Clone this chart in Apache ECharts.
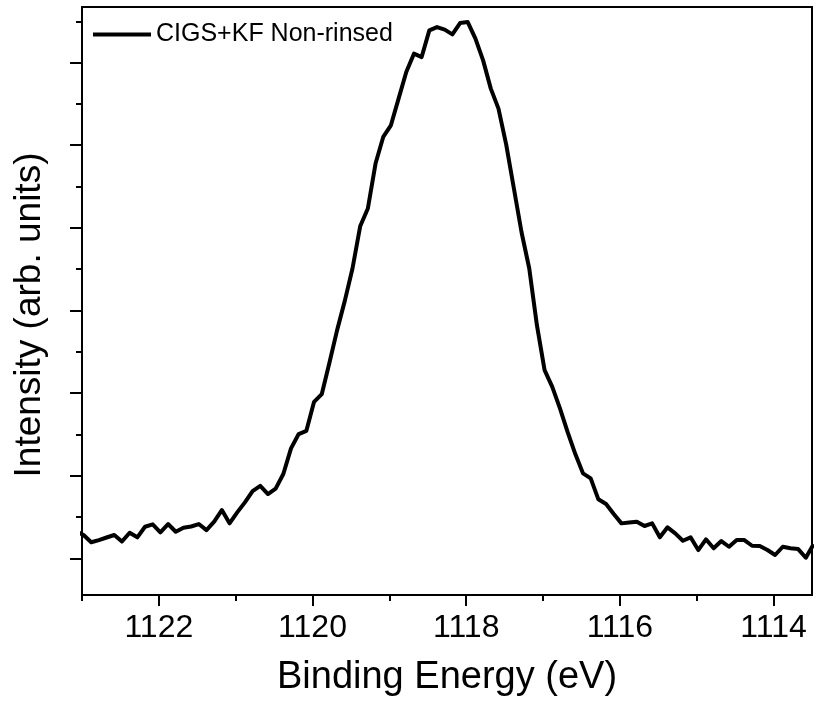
<!DOCTYPE html>
<html>
<head>
<meta charset="utf-8">
<script src="https://cdn.jsdelivr.net/npm/echarts@6/dist/echarts.min.js"></script>
<style>
html,body{margin:0;padding:0;background:#fff;}
#chart{width:818px;height:712px;}
</style>
</head>
<body>
<div id="chart"></div>
<script>
// Binding energy (eV)
var energy = [
  1123.08, 1122.98, 1122.88, 1122.78, 1122.68, 1122.58, 1122.48, 1122.38, 1122.28, 1122.18,
  1122.08, 1121.98, 1121.88, 1121.78, 1121.68, 1121.58, 1121.48, 1121.38, 1121.28, 1121.18,
  1121.08, 1120.98, 1120.88, 1120.78, 1120.68, 1120.58, 1120.48, 1120.38, 1120.28, 1120.18,
  1120.08, 1119.98, 1119.88, 1119.78, 1119.68, 1119.58, 1119.48, 1119.38, 1119.28, 1119.18,
  1119.08, 1118.98, 1118.88, 1118.78, 1118.68, 1118.58, 1118.48, 1118.38, 1118.28, 1118.18,
  1118.08, 1117.98, 1117.88, 1117.78, 1117.68, 1117.58, 1117.48, 1117.38, 1117.28, 1117.18,
  1117.08, 1116.98, 1116.88, 1116.78, 1116.68, 1116.58, 1116.48, 1116.38, 1116.28, 1116.18,
  1116.08, 1115.98, 1115.88, 1115.78, 1115.68, 1115.58, 1115.48, 1115.38, 1115.28, 1115.18,
  1115.08, 1114.98, 1114.88, 1114.78, 1114.68, 1114.58, 1114.48, 1114.38, 1114.28, 1114.18,
  1114.08, 1113.98, 1113.88, 1113.78, 1113.68, 1113.58, 1113.48
];
// Intensity (arb. units)
var intensity = [
  1330, 1282, 1194, 1221, 1252, 1282, 1203, 1310, 1254, 1382,
  1411, 1315, 1415, 1322, 1370, 1385, 1415, 1342, 1443, 1584,
  1423, 1556, 1677, 1814, 1878, 1778, 1844, 2020, 2331, 2504,
  2543, 2894, 2987, 3366, 3762, 4116, 4508, 5019, 5234, 5778,
  6100, 6241, 6564, 6886, 7108, 7067, 7390, 7430, 7399, 7342,
  7479, 7491, 7290, 7027, 6685, 6443, 6011, 5479, 4947, 4511,
  3822, 3278, 3076, 2814, 2528, 2262, 2028, 1968, 1714, 1657,
  1536, 1423, 1433, 1443, 1391, 1423, 1254, 1375, 1302, 1213,
  1254, 1100, 1230, 1121, 1209, 1140, 1221, 1221, 1152, 1149,
  1100, 1040, 1140, 1121, 1112, 1007, 1170
];
var seriesName = 'CIGS+KF Non-rinsed';
var xMajorTicks = [1114, 1116, 1118, 1120, 1122];
var xMinorTicks = [1115, 1117, 1119, 1121, 1123];
var yMajorTicks = [1000, 2000, 3000, 4000, 5000, 6000, 7000];
var yMinorTicks = [1500, 2500, 3500, 4500, 5500, 6500, 7500];
var xRange = [1113.5, 1123];
var yRange = [556, 7673];

var FONT = '"Liberation Sans", Arial, sans-serif';
var points = energy.map(function (e, i) { return [e, intensity[i]]; });

var chart = echarts.init(document.getElementById('chart'), null, {renderer: 'canvas'});
chart.setOption({
  animation: false,
  backgroundColor: '#fff',
  grid: {
    left: 82, right: 6, top: 7, bottom: 117,
    show: true, borderColor: '#000', borderWidth: 2, containLabel: false
  },
  legend: {
    data: [seriesName],
    left: 88, top: 17,
    icon: 'rect', itemWidth: 58, itemHeight: 4,
    textStyle: {fontFamily: FONT, fontSize: 25, color: '#000'},
    itemStyle: {color: '#000'}
  },
  xAxis: [{
    type: 'value', inverse: true, min: xRange[0], max: xRange[1], position: 'bottom',
    axisLine: {show: true, onZero: false, lineStyle: {color: '#000', width: 2}},
    axisTick: {show: true, inside: false, length: 11, customValues: xMajorTicks, lineStyle: {color: '#000', width: 2}},
    axisLabel: {show: true, customValues: xMajorTicks, margin: 17, fontFamily: FONT, fontSize: 32, color: '#000',
      formatter: function (v) { return String(v); }},
    splitLine: {show: false},
    name: 'Binding Energy (eV)', nameLocation: 'middle', nameGap: 64,
    nameTextStyle: {fontFamily: FONT, fontSize: 38, color: '#000'}
  }, {
    type: 'value', inverse: true, min: xRange[0], max: xRange[1], position: 'bottom',
    axisLine: {show: false, onZero: false},
    axisTick: {show: true, inside: false, length: 6, customValues: xMinorTicks, lineStyle: {color: '#000', width: 2}},
    axisLabel: {show: false},
    splitLine: {show: false}
  }],
  yAxis: [{
    type: 'value', min: yRange[0], max: yRange[1], position: 'left',
    axisLine: {show: true, onZero: false, lineStyle: {color: '#000', width: 2}},
    axisTick: {show: true, inside: false, length: 12, customValues: yMajorTicks, lineStyle: {color: '#000', width: 2}},
    axisLabel: {show: false},
    splitLine: {show: false},
    name: 'Intensity (arb. units)', nameLocation: 'middle', nameGap: 34, nameRotate: 90,
    nameTextStyle: {fontFamily: FONT, fontSize: 37, color: '#000', padding: [0, 28, 0, 0]}
  }, {
    type: 'value', min: yRange[0], max: yRange[1], position: 'left',
    axisLine: {show: false, onZero: false},
    axisTick: {show: true, inside: false, length: 6, customValues: yMinorTicks, lineStyle: {color: '#000', width: 2}},
    axisLabel: {show: false},
    splitLine: {show: false}
  }],
  series: [{
    name: seriesName,
    type: 'line',
    xAxisIndex: 0, yAxisIndex: 0,
    data: points,
    showSymbol: false,
    symbol: 'none',
    smooth: false,
    clip: true,
    lineStyle: {color: '#000', width: 4, join: 'round'},
    itemStyle: {color: '#000'}
  }]
});
</script>
</body>
</html>
